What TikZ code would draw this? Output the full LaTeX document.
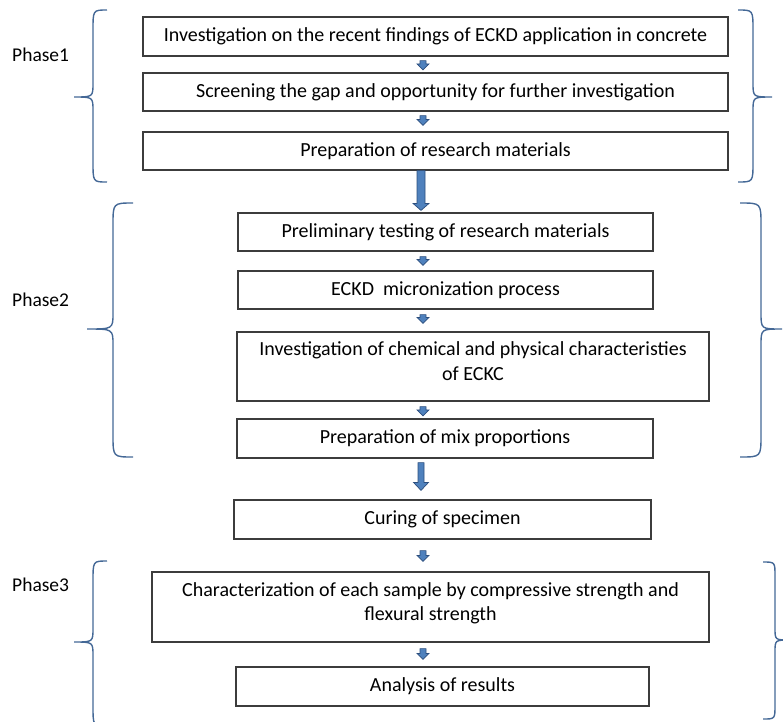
\documentclass[tikz,border=0pt]{standalone}
\usepackage{fontspec}
\setmainfont{Carlito}
\usetikzlibrary{calc}
\definecolor{boxline}{RGB}{60,60,60}
\definecolor{bracecol}{RGB}{68,104,150}
\definecolor{afill}{RGB}{79,129,189}
\definecolor{aline}{RGB}{44,78,125}
% #1 from node, #2 to node, #3 x, #4 gap start, #5 gap end, #6 shaft half, #7 head half, #8 head length
\newcommand\flowarrow[8]{%
  \filldraw[farrow] let \p1=(#1.south), \p2=(#2.north) in
   ({#3pt-#6pt},{\y1-#4pt}) -- ({#3pt+#6pt},{\y1-#4pt}) --
   ({#3pt+#6pt},{\y2+#5pt+#8pt}) -- ({#3pt+#7pt},{\y2+#5pt+#8pt}) --
   ({#3pt},{\y2+#5pt}) -- ({#3pt-#7pt},{\y2+#5pt+#8pt}) --
   ({#3pt-#6pt},{\y2+#5pt+#8pt}) -- cycle;}
% brace: #1 x end, #2 x mid, #3 x tip, #4 y top, #5 y tip, #6 y bottom, #7 end radius, #8 tip radius
\newcommand\phasebrace[8]{%
  \draw[bracestyle] (#1,#4) .. controls (#2,#4) .. (#2,#4+#7) -- (#2,#5-#8)
     .. controls (#2,#5) .. (#3,#5) .. controls (#2,#5) .. (#2,#5+#8)
     -- (#2,#6-#7) .. controls (#2,#6) .. (#1,#6);}
\begin{document}
\begin{tikzpicture}[x=1pt,y=-1pt,
  box/.style={draw=boxline, line width=1.2pt, inner sep=0pt, align=center,
    font=\fontsize{20}{24.5}\selectfont, text=black},
  phase/.style={anchor=west, inner sep=0pt, font=\fontsize{19.5}{24}\selectfont},
  farrow/.style={fill=afill, draw=aline, line width=0.7pt, line join=miter},
  bracestyle/.style={draw=bracecol, line width=1.4pt}]
\useasboundingbox (0,0) rectangle (783,721);
\clip (0,0) rectangle (783,721);

% Phase 1
\node[box, minimum width=585pt, minimum height=39pt] (b1) at (435.5,36.5)
  {\raisebox{0pt}{Investigation on the recent findings of ECKD application in concrete}};
\node[box, minimum width=585pt, minimum height=38pt] (b2) at (435.5,92)
  {Screening the gap and opportunity for further investigation};
\node[box, minimum width=585pt, minimum height=38pt] (b3) at (435.5,151)
  {Preparation of research materials};

% Phase 2
\node[box, minimum width=415pt, minimum height=38pt] (b4) at (445.5,232)
  {Preliminary testing of research materials};
\node[box, minimum width=415pt, minimum height=38pt] (b5) at (445.5,290)
  {ECKD~~micronization process};
\node[box, minimum width=472pt, minimum height=69pt] (b6) at (473,366.5)
  {Investigation of chemical and physical characteristies\\of ECKC\\[-14pt]\mbox{}};
\node[box, minimum width=416pt, minimum height=39pt] (b7) at (445,438.5)
  {Preparation of mix proportions};

% Curing
\node[box, minimum width=417pt, minimum height=39pt] (b8) at (442.5,519.5)
  {Curing of specimen};

% Phase 3
\node[box, minimum width=557pt, minimum height=70pt] (b9) at (430.5,607)
  {Characterization of each sample by compressive strength and\\flexural strength\\[-14pt]\mbox{}};
\node[box, minimum width=413pt, minimum height=39pt] (b10) at (442.5,686.5)
  {Analysis of results};

% labels
\node[phase] (p1) at (12,55) {Phase1};
\node[phase] (p2) at (12,300) {Phase2};
\node[phase] (p3) at (12,585) {Phase3};

% arrows
\flowarrow{b1}{b2}{423}{4}{2.5}{3}{6}{6}
\flowarrow{b2}{b3}{423}{4}{6}{3}{6}{6}
\flowarrow{b3}{b4}{421}{0}{2}{4}{8}{7}
\flowarrow{b4}{b5}{423}{5}{5}{3}{6}{6}
\flowarrow{b5}{b6}{423}{5}{8}{3}{6}{6}
\flowarrow{b6}{b7}{423}{5}{2.5}{3}{6}{6}
\flowarrow{b7}{b8}{421}{4}{9}{3}{7.5}{8}
\flowarrow{b8}{b9}{423}{11}{10}{3}{6}{6}
\flowarrow{b9}{b10}{423}{6}{7}{3}{6}{6}

% braces
\phasebrace{107}{93}{74}{10}{97}{182}{20}{14}
\phasebrace{738}{753}{772}{10}{97}{182}{20}{14}
\phasebrace{133}{113}{87}{203}{329}{457}{22}{16}
\phasebrace{740}{761}{782}{203}{329}{457}{22}{16}
\phasebrace{107}{93}{74}{561}{642}{726}{20}{14}
\phasebrace{763}{775}{790}{562}{640}{719}{14}{12}
\end{tikzpicture}
\end{document}
